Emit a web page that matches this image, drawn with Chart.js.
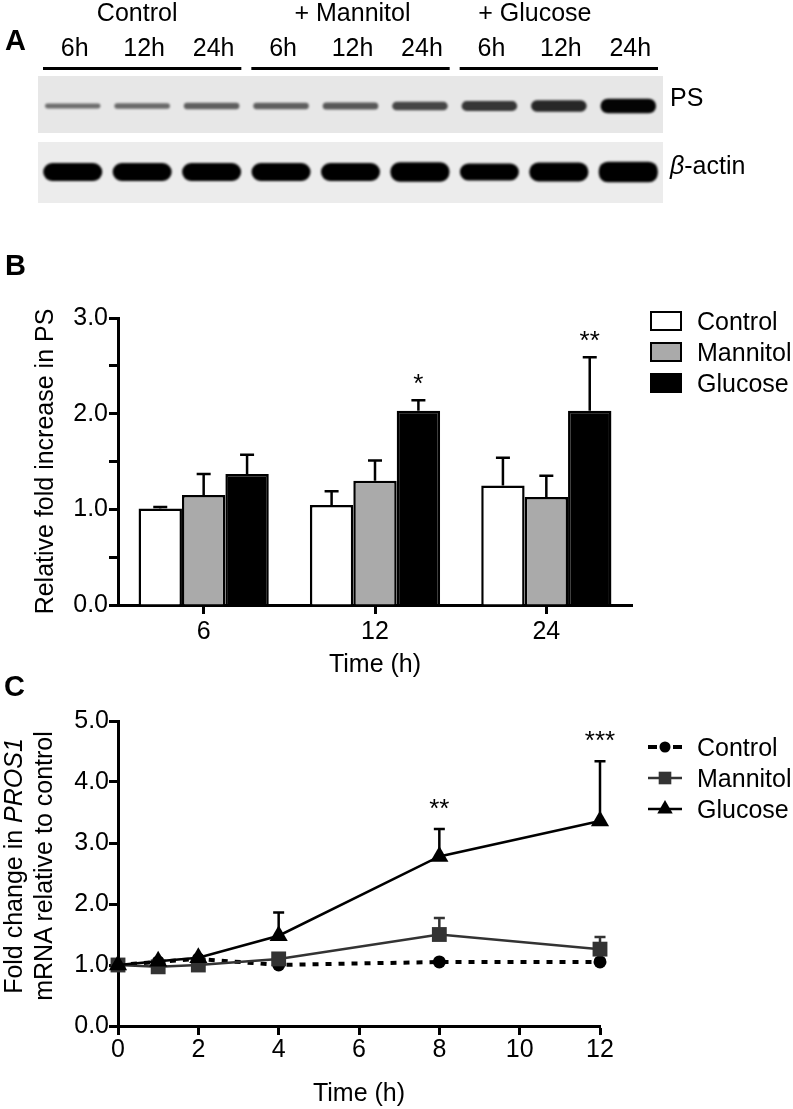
<!DOCTYPE html>
<html>
<head>
<meta charset="utf-8">
<script src="https://cdn.jsdelivr.net/npm/chart.js@4.4.0/dist/chart.umd.min.js"></script>
<style>
  body { margin: 0; background: #fff; font-family: "Liberation Sans", Arial, sans-serif; }
  #fig { position: relative; width: 793px; height: 1109px; overflow: hidden; }
  canvas { position: absolute; left: 0; }
  .t { position: absolute; color: #000; white-space: nowrap; font-size: 25px; line-height: 30px; }
  .letter { font-weight: bold; font-size: 29px; }
  .box { position: absolute; left: 650px; width: 32px; height: 20px; border: 2.5px solid #000; box-sizing: border-box; }
</style>
</head>
<body>
<div id="fig">
  <canvas id="blot" width="793" height="210" style="top:0"></canvas>
  <canvas id="bars" width="793" height="440" style="top:250px"></canvas>
  <canvas id="lines" width="793" height="419" style="top:690px"></canvas>

  <div class="t letter" style="left:5px;top:25px">A</div>
  <div class="t letter" style="left:5px;top:250px">B</div>
  <div class="t letter" style="left:4px;top:671px">C</div>

  <div class="t" style="left:670px;top:82px">PS</div>
  <div class="t" style="left:670px;top:150px"><i>β</i>-actin</div>

  <div class="box" style="top:311px;background:#fff"></div>
  <div class="box" style="top:342px;background:#aaa"></div>
  <div class="box" style="top:373px;background:#000"></div>
  <div class="t" style="left:697px;top:306px">Control</div>
  <div class="t" style="left:697px;top:337px">Mannitol</div>
  <div class="t" style="left:697px;top:368px">Glucose</div>

  <div class="t" style="left:697px;top:732px">Control</div>
  <div class="t" style="left:697px;top:763px">Mannitol</div>
  <div class="t" style="left:697px;top:794px">Glucose</div>

  <div class="t" style="left:-122px;top:836px;width:300px;height:60px;text-align:center;transform:rotate(-90deg)">Fold change in <i>PROS1</i><br>mRNA relative to control</div>
</div>

<script>
// panel A: western blot lanes
const lanes = ["6h", "12h", "24h", "6h", "12h", "24h", "6h", "12h", "24h"];
const blotGroups = ["Control", "+ Mannitol", "+ Glucose"];
const psDensity = [0.35, 0.38, 0.45, 0.45, 0.5, 0.62, 0.72, 0.82, 1.05];
const actinDensity = [1.0, 1.0, 1.0, 1.0, 1.0, 1.08, 0.95, 1.05, 1.15];

// panel B: protein S, relative fold increase
const timeCats = ["6", "12", "24"];
const controlMean = [1.01, 1.045, 1.25];
const controlSem = [0.015, 0.145, 0.29];
const mannitolMean = [1.15, 1.30, 1.13];
const mannitolSem = [0.22, 0.21, 0.22];
const glucoseMean = [1.37, 2.03, 2.03];
const glucoseSem = [0.20, 0.11, 0.56];
const barStars = ["", "*", "**"];

// panel C: PROS1 mRNA time course
const hours = [0, 1, 2, 4, 8, 12];
const ctrlFold = [1.0, 1.05, 1.1, 1.0, 1.05, 1.05];
const mannFold = [1.0, 0.97, 1.0, 1.1, 1.5, 1.26];
const mannErr = [0, 0, 0, 0, 0.27, 0.2];
const glucFold = [1.0, 1.06, 1.12, 1.48, 2.78, 3.36];
const glucErr = [0, 0, 0, 0.38, 0.45, 0.98];
const lineStars = ["", "", "", "", "**", "***"];

Chart.defaults.font.family = '"Liberation Sans", Arial, sans-serif';
Chart.defaults.color = "#000";
const FONT = { size: 25 };

// ---------- panel A ----------
const PS_MID = 30, ACTIN_MID = 96;

const blotPlugin = {
  id: "blotDecor",
  beforeDatasetsDraw(chart) {
    const { ctx, chartArea: a, scales: { y } } = chart;
    ctx.save();
    ctx.fillStyle = "#e7e7e7";
    ctx.fillRect(a.left, y.getPixelForValue(0), a.right - a.left, y.getPixelForValue(57) - y.getPixelForValue(0));
    ctx.fillStyle = "#ececec";
    ctx.fillRect(a.left, y.getPixelForValue(66), a.right - a.left, y.getPixelForValue(127) - y.getPixelForValue(66));
    ctx.restore();
    ctx.save();
    ctx.filter = "blur(1.3px)";
  },
  afterDatasetsDraw(chart) {
    chart.ctx.restore();
    const { ctx, scales: { x } } = chart;
    const half = (x.getPixelForValue(1) - x.getPixelForValue(0)) / 2;
    const shift = [-5, 2, -24];
    ctx.save();
    ctx.fillStyle = "#000";
    ctx.font = '25px "Liberation Sans", Arial, sans-serif';
    ctx.textAlign = "center";
    ctx.textBaseline = "middle";
    blotGroups.forEach((g, k) => {
      const l = x.getPixelForValue(3 * k) - half + 5;
      const r = x.getPixelForValue(3 * k + 2) + half - 5;
      ctx.fillRect(l, 67, r - l, 3);
      ctx.fillText(g, (l + r) / 2 + shift[k], 14);
    });
    lanes.forEach((t, i) => ctx.fillText(t, x.getPixelForValue(i) + 2, 49));
    ctx.restore();
  }
};

new Chart(document.getElementById("blot"), {
  type: "bar",
  data: {
    labels: lanes,
    datasets: [
      {
        data: psDensity.map(d => [PS_MID - d * 7, PS_MID + d * 7]),
        backgroundColor: psDensity.map(d => `rgba(0,0,0,${Math.min(1, 0.3 + 0.65 * d)})`),
        barPercentage: 0.8
      },
      {
        data: actinDensity.map(d => [ACTIN_MID - d * 9, ACTIN_MID + d * 9]),
        backgroundColor: "#000",
        barPercentage: 0.85
      }
    ]
  },
  options: {
    responsive: false, animation: false, devicePixelRatio: 1,
    layout: { padding: { left: 38, right: 130, top: 76, bottom: 7 } },
    datasets: { bar: { grouped: false, categoryPercentage: 1, borderRadius: 9, borderSkipped: false } },
    plugins: { legend: { display: false }, tooltip: { enabled: false } },
    scales: {
      x: { display: false, offset: true },
      y: { display: false, min: 0, max: 127, reverse: true }
    }
  },
  plugins: [blotPlugin]
});

// ---------- error bars + stars ----------
function drawErrors(chart, opts) {
  const ctx = chart.ctx, y = chart.scales.y;
  ctx.save();
  ctx.setLineDash([]);
  ctx.lineWidth = opts.width;
  chart.data.datasets.forEach((ds, i) => {
    if (!ds.err) return;
    chart.getDatasetMeta(i).data.forEach((el, j) => {
      const e = ds.err[j];
      if (!e) return;
      const v = typeof ds.data[j] === "object" ? ds.data[j].y : ds.data[j];
      const top = y.getPixelForValue(v + e);
      ctx.strokeStyle = ds.borderColor;
      ctx.beginPath();
      ctx.moveTo(el.x, el.y);
      ctx.lineTo(el.x, top);
      ctx.moveTo(el.x - opts.cap / 2, top);
      ctx.lineTo(el.x + opts.cap / 2, top);
      ctx.stroke();
    });
  });
  ctx.restore();
}

const errorBars = {
  id: "errorBars",
  beforeDatasetsDraw(chart, args, opts) { if (opts.under) drawErrors(chart, opts); },
  afterDatasetsDraw(chart, args, opts) {
    if (!opts.under) drawErrors(chart, opts);
    const { ctx, scales: { y } } = chart;
    const ds = chart.data.datasets[opts.starSet];
    const meta = chart.getDatasetMeta(opts.starSet);
    ctx.save();
    ctx.fillStyle = "#000";
    ctx.font = '26px "Liberation Sans", Arial, sans-serif';
    ctx.textAlign = "center";
    ctx.textBaseline = "alphabetic";
    opts.stars.forEach((s, j) => {
      if (!s) return;
      const v = typeof ds.data[j] === "object" ? ds.data[j].y : ds.data[j];
      ctx.fillText(s, meta.data[j].x, y.getPixelForValue(v + (ds.err[j] || 0)) - opts.gap);
    });
    ctx.restore();
  }
};

const axisGrid = { drawOnChartArea: false, tickLength: 9, tickWidth: 3, tickColor: "#000" };
const axisBorder = { color: "#000", width: 3 };

// ---------- panel B ----------
new Chart(document.getElementById("bars"), {
  type: "bar",
  data: {
    labels: timeCats,
    datasets: [
      { label: "Control", data: controlMean, err: controlSem, backgroundColor: "#fff", borderColor: "#000" },
      { label: "Mannitol", data: mannitolMean, err: mannitolSem, backgroundColor: "#aaa", borderColor: "#000" },
      { label: "Glucose", data: glucoseMean, err: glucoseSem, backgroundColor: "#000", borderColor: "#000" }
    ]
  },
  options: {
    responsive: false, animation: false, devicePixelRatio: 1,
    layout: { padding: { left: 0, right: 161, top: 68, bottom: 0 } },
    datasets: { bar: { categoryPercentage: 0.76, barPercentage: 1, borderWidth: 2.5, borderSkipped: "bottom" } },
    plugins: {
      legend: { display: false }, tooltip: { enabled: false },
      errorBars: { width: 2.5, cap: 14, starSet: 2, stars: barStars, gap: 8, under: false }
    },
    scales: {
      x: {
        offset: true,
        grid: { ...axisGrid, offset: false },
        border: axisBorder,
        ticks: { font: FONT, padding: 3 },
        title: { display: true, text: "Time (h)", font: FONT, padding: { top: 0, bottom: 10 } },
        afterFit: s => { s.height = 85; }
      },
      y: {
        min: 0, max: 3,
        grid: axisGrid,
        border: axisBorder,
        ticks: { stepSize: 0.5, font: FONT, padding: 1, callback: v => (v % 1 === 0 ? v.toFixed(1) : "") },
        title: { display: true, text: "Relative fold increase in PS", font: FONT, padding: { top: 31, bottom: 0 } },
        afterFit: s => { s.width = 118; }
      }
    }
  },
  plugins: [errorBars]
});

// ---------- panel C ----------
function marker(ctx, style, r, x, y) {
  ctx.beginPath();
  if (style === "circle") ctx.arc(x, y, r, 0, Math.PI * 2);
  else if (style === "rect") { const s = r * Math.SQRT1_2; ctx.rect(x - s, y - s, 2 * s, 2 * s); }
  else { ctx.moveTo(x, y - r); ctx.lineTo(x + r * 0.866, y + r / 2); ctx.lineTo(x - r * 0.866, y + r / 2); ctx.closePath(); }
  ctx.fill();
}

const lineLegend = {
  id: "lineLegend",
  afterDraw(chart) {
    const ctx = chart.ctx;
    const rows = [57, 88, 119];
    ["Control", "Mannitol", "Glucose"].forEach((name, k) => {
      const ds = chart.data.datasets.find(d => d.label === name);
      ctx.save();
      ctx.strokeStyle = ds.borderColor;
      ctx.fillStyle = ds.backgroundColor;
      ctx.lineWidth = ds.borderWidth;
      ctx.setLineDash(name === "Control" ? [9, 16] : []);
      ctx.beginPath();
      ctx.moveTo(648, rows[k]);
      ctx.lineTo(682, rows[k]);
      ctx.stroke();
      marker(ctx, ds.pointStyle, ds.pointRadius * 0.85, 665, rows[k]);
      ctx.restore();
    });
  }
};

new Chart(document.getElementById("lines"), {
  type: "line",
  data: {
    datasets: [
      {
        label: "Control", order: 2,
        data: hours.map((h, i) => ({ x: h, y: ctrlFold[i] })),
        borderColor: "#000", backgroundColor: "#000", borderWidth: 4, borderDash: [6, 7],
        pointStyle: "circle", pointRadius: 6.5, pointBorderWidth: 0
      },
      {
        label: "Mannitol", order: 1,
        data: hours.map((h, i) => ({ x: h, y: mannFold[i] })), err: mannErr,
        borderColor: "#333", backgroundColor: "#333", borderWidth: 2.5,
        pointStyle: "rect", pointRadius: 10.5, pointBorderWidth: 0
      },
      {
        label: "Glucose", order: 0,
        data: hours.map((h, i) => ({ x: h, y: glucFold[i] })), err: glucErr,
        borderColor: "#000", backgroundColor: "#000", borderWidth: 2.5,
        pointStyle: "triangle", pointRadius: 10.5, pointBorderWidth: 0
      }
    ]
  },
  options: {
    responsive: false, animation: false, devicePixelRatio: 1,
    layout: { padding: { left: 0, right: 193, top: 31, bottom: 0 } },
    datasets: { line: { tension: 0, clip: false } },
    plugins: {
      legend: { display: false }, tooltip: { enabled: false },
      errorBars: { width: 2.5, cap: 11, starSet: 2, stars: lineStars, gap: 12, under: true }
    },
    scales: {
      x: {
        type: "linear", min: 0, max: 12,
        grid: axisGrid,
        border: axisBorder,
        ticks: { stepSize: 2, font: FONT, padding: 0 },
        title: { display: true, text: "Time (h)", font: FONT, padding: { top: 0, bottom: 0 } },
        afterFit: s => { s.height = 83; }
      },
      y: {
        min: 0, max: 5,
        grid: axisGrid,
        border: axisBorder,
        ticks: { stepSize: 1, font: FONT, padding: 0, callback: v => v.toFixed(1) },
        afterFit: s => { s.width = 118; }
      }
    }
  },
  plugins: [errorBars, lineLegend]
});
</script>
</body>
</html>
